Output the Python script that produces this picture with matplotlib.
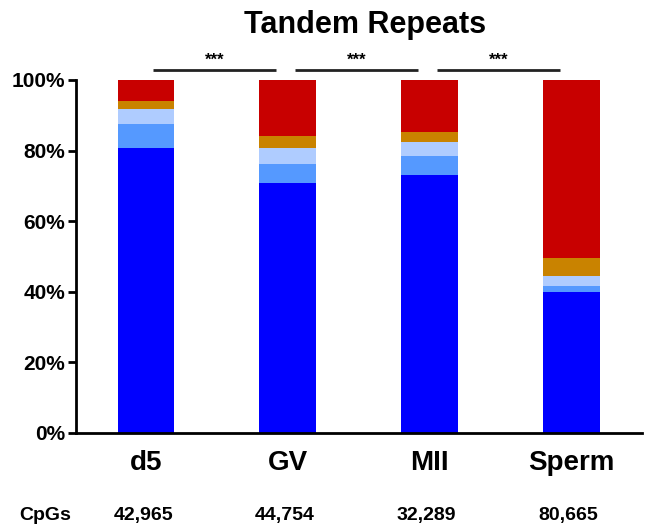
import matplotlib
matplotlib.use("Agg")
import matplotlib.pyplot as plt

plt.rcParams['font.family'] = ['Liberation Sans', 'DejaVu Sans']
plt.rcParams['font.weight'] = 'bold'

# ==========================================
# DATA (percent of CpGs per category)
# ==========================================
samples = ["d5", "GV", "MII", "Sperm"]
cpgs = ["42,965", "44,754", "32,289", "80,665"]

seg_blue = [80.8, 70.7, 73.0, 39.9]
seg_midblue = [6.8, 5.6, 5.6, 1.8]
seg_lightblue = [4.2, 4.3, 3.7, 2.7]
seg_orange = [2.3, 3.6, 3.1, 5.3]
seg_red = [5.9, 15.8, 14.6, 50.3]

segments = [seg_blue, seg_midblue, seg_lightblue, seg_orange, seg_red]
colors = ['#0000FF', '#5599FF', '#AFCCFF', '#C98300', '#C80000']

# significance brackets: (start bar, end bar, label)
sig_pairs = [(0, 1, "***"), (1, 2, "***"), (2, 3, "***")]

fig = plt.figure(figsize=(6.49, 5.29), dpi=100)
ax = fig.add_axes([0.1171, 0.1815, 0.872, 0.6673])

x = list(range(len(samples)))
bottom = [0.0] * len(samples)
for vals, col in zip(segments, colors):
    ax.bar(x, vals, width=0.40, bottom=bottom, color=col, edgecolor='none')
    bottom = [b + v for b, v in zip(bottom, vals)]

ax.set_xlim(-0.494, 3.498)
ax.set_ylim(0, 100)
ax.set_yticks([0, 20, 40, 60, 80, 100])
ax.set_yticklabels([f"{v}%" for v in [0, 20, 40, 60, 80, 100]], fontsize=15, fontweight='bold')
ax.set_xticks(x)
ax.set_xticklabels(samples, fontsize=20, fontweight='bold')
ax.tick_params(axis='x', length=0, pad=12)
ax.tick_params(axis='y', length=6, width=2, direction='out', pad=2)

for side in ['top', 'right']:
    ax.spines[side].set_visible(False)
ax.spines['left'].set_linewidth(2)
ax.spines['bottom'].set_linewidth(2)

# significance lines
for a, b, lab in sig_pairs:
    x0 = a + 0.05
    x1 = b - 0.08
    ax.plot([x0, x1], [102.8, 102.8], color='#222222', lw=2, clip_on=False,
            solid_capstyle='butt')
    ax.text((x0 + x1) / 2, 103.4, lab, ha='center', va='bottom', fontsize=12,
            fontweight='bold')

ax.set_title("Tandem Repeats", fontsize=22, fontweight='bold', pad=34, x=0.51)

# CpG counts row
ax.text(-0.71, -23.5, "CpGs", ha='center', va='center', fontsize=14,
        fontweight='bold', clip_on=False)
for xi, c in zip(x, cpgs):
    ax.text(xi - 0.02, -23.5, c, ha='center', va='center', fontsize=14,
            fontweight='bold', clip_on=False)

fig.savefig("out.png", dpi=100)
